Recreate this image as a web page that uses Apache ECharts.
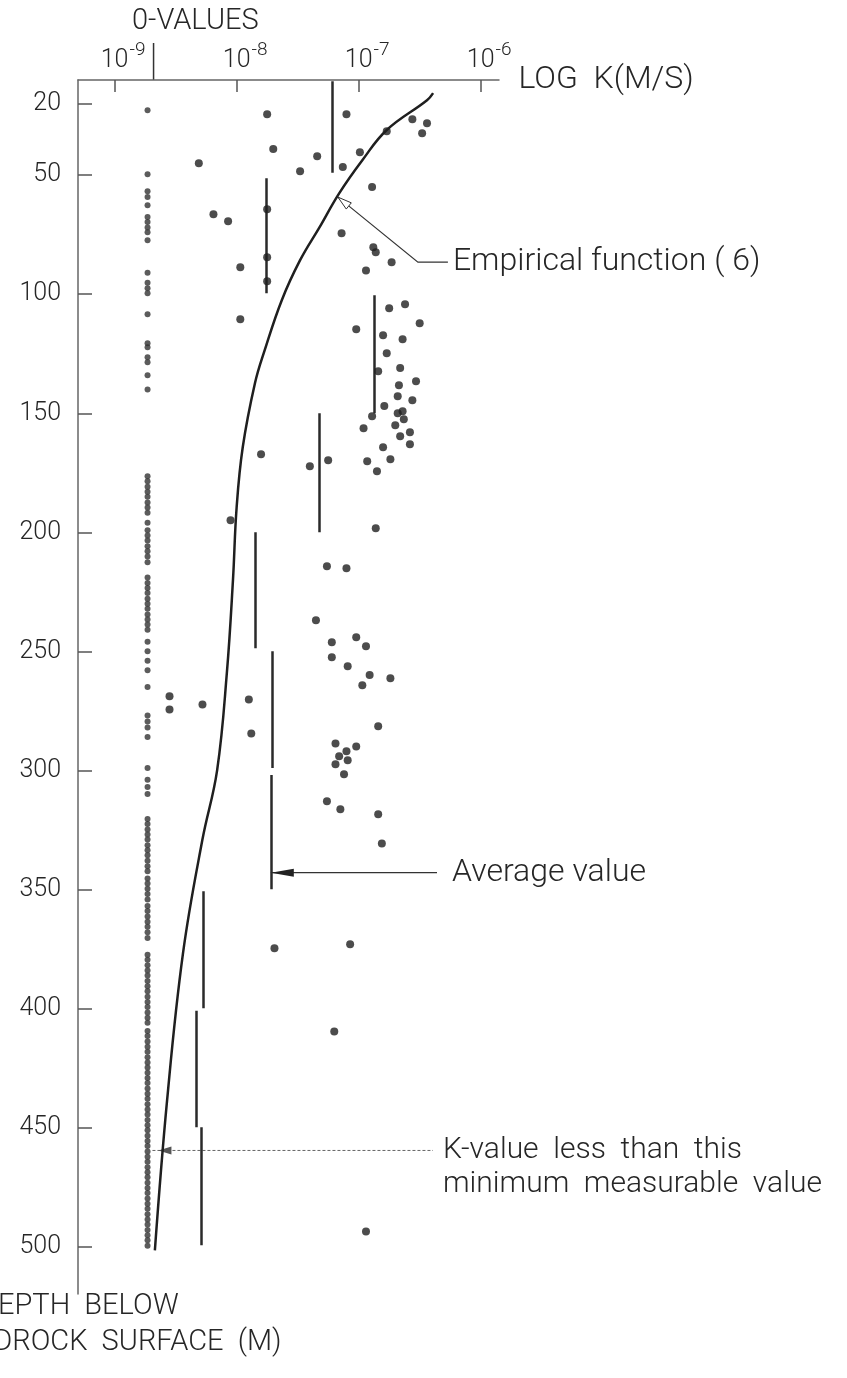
<!DOCTYPE html>
<html>
<head>
<meta charset="utf-8">
<script src="https://cdn.jsdelivr.net/npm/echarts@6/dist/echarts.min.js"></script>
<style>
  html, body { margin: 0; padding: 0; background: #fff; }
  #chart { width: 847px; height: 1378px; }
</style>
</head>
<body>
<div id="chart"></div>
<script>
// axis ticks
const kTicks = [-9, -8, -7, -6];
const depthTicks = [20, 50, 100, 150, 200, 250, 300, 350, 400, 450, 500];

// the "0-values" column is drawn at this log K
const ZERO_LOGK = -8.73;

// depths (m) of the 0-values dots
const zeroDepths = [
  22.7, 49.6, 56.7, 59.2, 62.6, 67.6, 69.7, 72.0, 74.0, 77.3, 91.0, 95.2, 97.5, 99.6,
  108.4, 120.6, 122.3, 126.5, 128.6, 134.0, 140.0,
  176.5, 178.6, 180.9, 183.0, 185.1, 187.5, 189.6, 191.8, 196.0, 199.2, 201.4, 203.5,
  205.9, 208.0, 210.2, 212.6,
  219.0, 221.3, 223.4, 225.5, 227.9, 230.0, 232.1, 234.5, 236.6, 238.7, 241.0,
  246.0, 250.0, 254.0, 258.0, 265.0, 277.0, 279.5, 282.0, 286.0, 299.0, 304.0, 307.0, 310.0,
  320.5, 322.6, 324.9, 327.0, 329.1, 331.5, 333.6, 335.7, 338.0, 340.3, 342.4, 345.4,
  347.5, 349.8, 352.0, 354.3, 357.0, 359.1, 361.4, 363.6, 365.7, 368.0, 370.4,
  377.5, 379.6, 381.9, 384.1, 386.2, 388.5, 390.7, 392.8, 395.1, 397.3, 399.4, 401.7,
  403.9, 406.0,
  409.5, 411.6, 413.9, 416.1, 418.2, 420.5, 422.7, 424.8, 427.1, 429.3, 431.4, 433.7,
  435.9, 438.0, 440.3, 442.5, 444.6, 446.9, 449.1, 451.2, 453.5, 455.7, 457.8, 460.1,
  462.3, 464.4, 466.7, 468.9, 471.0, 473.3, 475.5, 477.6, 479.9, 482.1, 484.2, 486.5,
  488.7, 490.8, 493.1, 495.3, 497.4, 499.7
];

// measured values: log K (m/s) and depth (m)
const measLogK = [
  -7.75, -7.10, -7.70, -8.31, -7.34, -7.48, -6.99, -7.13, -6.77, -6.56, -6.44, -6.48,
  -6.89, -8.19, -8.07, -7.14, -6.88, -6.86, -6.73, -6.94, -7.97, -7.97, -7.02, -6.75,
  -6.62, -6.50, -6.80, -6.64, -7.75, -7.75, -7.75,
  -6.77, -6.66, -6.84, -6.53, -6.67, -6.68, -6.56, -6.79, -6.68, -6.64, -6.63, -6.89,
  -6.96, -6.70, -6.58, -6.66, -6.58, -6.80, -6.74, -6.93, -6.85, -7.80, -7.40, -7.25,
  -8.05, -6.86, -7.26, -7.10,
  -7.35, -7.22, -7.02, -6.94, -7.22, -7.09, -6.91, -6.74, -6.97, -8.55, -8.55, -8.28,
  -7.90, -7.88, -6.84, -7.19, -7.02, -7.10, -7.16, -7.09, -7.19, -7.12, -7.26, -7.15,
  -6.84, -6.81, -7.69, -7.07, -7.20, -6.94
];
const measDepth = [
  24.4, 24.4, 39.0, 45.0, 42.0, 48.3, 40.3, 46.6, 31.5, 26.5, 28.2, 32.4,
  55.0, 66.4, 69.3, 74.4, 80.3, 82.4, 86.6, 90.0, 88.7, 110.5, 114.7, 105.9,
  104.2, 112.2, 117.2, 118.9, 64.3, 84.5, 94.5,
  124.8, 131.0, 132.4, 136.6, 138.2, 142.9, 144.5, 147.0, 150.0, 149.2, 152.5, 151.3,
  156.3, 155.0, 158.0, 159.7, 163.0, 164.3, 169.3, 170.2, 174.4, 167.2, 172.3, 169.7,
  195.0, 198.3, 214.3, 215.1,
  237.0, 246.2, 244.1, 247.9, 252.5, 256.3, 260.0, 261.3, 264.3, 268.9, 274.4, 272.3,
  270.2, 284.5, 281.5, 288.7, 290.0, 292.0, 294.1, 295.8, 297.5, 301.7, 313.0, 316.4,
  318.5, 330.7, 374.8, 373.1, 409.7, 493.7
];

// average values per depth interval
const avgLogK = [-7.22, -7.76, -6.87, -7.32, -7.85, -7.71, -7.72, -8.27, -8.33, -8.29];
const avgTop = [10.5, 51.3, 100.4, 150, 200, 250, 302, 350.8, 401, 450];
const avgBottom = [49, 99.6, 150, 200, 248.7, 299, 350, 400, 450, 499.5];

// empirical function (6)
const curveLogK = [-6.39, -6.44, -6.77, -6.97, -7.16, -7.32, -7.48, -7.63, -7.77, -7.85,
  -7.95, -8.00, -8.03, -8.08, -8.16, -8.28, -8.44, -8.57, -8.67];
const curveDepth = [15.5, 18.5, 31, 43.7, 57.6, 71.8, 85.7, 102.5, 123.5, 137.4,
  164.3, 189.5, 220, 259, 300, 329, 377, 438.7, 501.7];

const FONT = 'Roboto, "DejaVu Sans", sans-serif';
const INK = '#262626';

let chart = echarts.init(document.getElementById('chart'));

const option = {
  animation: false,
  backgroundColor: '#fff',
  grid: { left: 78, top: 80, width: 421, height: 1214, containLabel: false },
  xAxis: {
    type: 'value',
    position: 'top',
    min: -9.3,
    max: -5.85,
    name: 'LOG  K(M/S)',
    nameLocation: 'end',
    nameGap: 12,
    nameTextStyle: { fontFamily: FONT, fontWeight: 300, fontSize: 32, color: INK },
    axisLine: { lineStyle: { color: '#666', width: 1.5 } },
    axisTick: { inside: true, length: 12, customValues: kTicks, lineStyle: { color: '#555', width: 1.5 } },
    axisLabel: {
      customValues: kTicks,
      margin: 7,
      formatter: v => '{p|}{b|10}{s|' + v + '}',
      rich: {
        p: { width: 18 },
        b: { fontFamily: FONT, fontWeight: 300, fontSize: 25, color: INK, lineHeight: 32, verticalAlign: 'bottom' },
        s: { fontFamily: FONT, fontWeight: 300, fontSize: 19, color: INK, lineHeight: 19, width: 18, verticalAlign: 'top' }
      }
    },
    splitLine: { show: false }
  },
  yAxis: {
    type: 'value',
    inverse: true,
    min: 10,
    max: 520,
    axisLine: { show: true, lineStyle: { color: '#666', width: 1.5 } },
    axisTick: { show: true, inside: true, length: 14, customValues: depthTicks, lineStyle: { color: '#555', width: 1.5 } },
    axisLabel: {
      customValues: depthTicks,
      margin: 17,
      fontFamily: FONT, fontWeight: 300, fontSize: 25, color: INK
    },
    splitLine: { show: false }
  },
  series: [
    {
      name: '0-values',
      type: 'scatter',
      symbolSize: 6,
      itemStyle: { color: '#333' },
      data: zeroDepths.map(d => [ZERO_LOGK, d])
    },
    {
      name: 'measured',
      type: 'scatter',
      symbolSize: 8,
      itemStyle: { color: '#1f1f1f' },
      data: measLogK.map((k, i) => [k, measDepth[i]])
    },
    {
      name: 'average',
      type: 'lines',
      coordinateSystem: 'cartesian2d',
      lineStyle: { color: '#2a2a2a', width: 2.5, opacity: 1 },
      data: avgLogK.map((k, i) => ({ coords: [[k, avgTop[i]], [k, avgBottom[i]]] }))
    },
    {
      name: 'empirical',
      type: 'line',
      smooth: 0.4,
      showSymbol: false,
      lineStyle: { color: '#1f1f1f', width: 2.5 },
      data: curveLogK.map((k, i) => [k, curveDepth[i]])
    }
  ]
};
chart.setOption(option);

// annotations, anchored on data coordinates
const P = (k, d) => chart.convertToPixel({ gridIndex: 0 }, [k, d]);
const txt = (s, x, y, size) => ({
  type: 'text',
  style: { text: s, x: x, y: y, fill: INK, fontFamily: FONT, fontWeight: 300, fontSize: size, verticalAlign: 'middle' }
});
const seg = (pts, w, dash, color) => ({
  type: 'polyline',
  shape: { points: pts },
  style: { stroke: color || '#333', lineWidth: w, fill: null, lineDash: dash || null }
});

const zeroTop = P(ZERO_LOGK, 10);
const emp = P(-7.17, 59.2);
const avg = P(-7.72, 343);
const kmin = P(-8.69, 459.7);

// arrow head direction for the empirical leader
const dx = 80, dy = 65, L = Math.sqrt(dx * dx + dy * dy);
const ux = dx / L, uy = dy / L;
const hb = [emp[0] + ux * 14, emp[1] + uy * 14];

chart.setOption({
  graphic: [
    txt('0-VALUES', 132, 22, 29),
    seg([[zeroTop[0] + 6, 43], [zeroTop[0] + 6, 80]], 1.5),

    seg([emp, [emp[0] + 80, emp[1] + 65], [emp[0] + 110, emp[1] + 65]], 1.2),
    {
      type: 'polygon',
      shape: { points: [emp, [hb[0] - uy * 4, hb[1] + ux * 4], [hb[0] + uy * 4, hb[1] - ux * 4]] },
      style: { fill: '#fff', stroke: '#333', lineWidth: 1 }
    },
    txt('Empirical function ( 6)', emp[0] + 115, emp[1] + 65, 32),

    seg([avg, [437, avg[1]]], 1.2),
    {
      type: 'polygon',
      shape: { points: [avg, [avg[0] + 23, avg[1] - 4], [avg[0] + 23, avg[1] + 4]] },
      style: { fill: '#222' }
    },
    txt('Average value', 452, avg[1], 32),

    seg([kmin, [433, kmin[1]]], 1, [3, 2], '#666'),
    {
      type: 'polygon',
      shape: { points: [[kmin[0] + 6, kmin[1]], [kmin[0] + 19, kmin[1] - 4], [kmin[0] + 19, kmin[1] + 4]] },
      style: { fill: '#555' }
    },
    txt('K-value  less  than  this', 443, kmin[1], 30),
    txt('minimum  measurable  value', 443, kmin[1] + 34, 30),

    txt('DEPTH  BELOW', -21, 1307, 29),
    txt('BEDROCK  SURFACE  (M)', -41, 1343, 29)
  ]
});
</script>
</body>
</html>
